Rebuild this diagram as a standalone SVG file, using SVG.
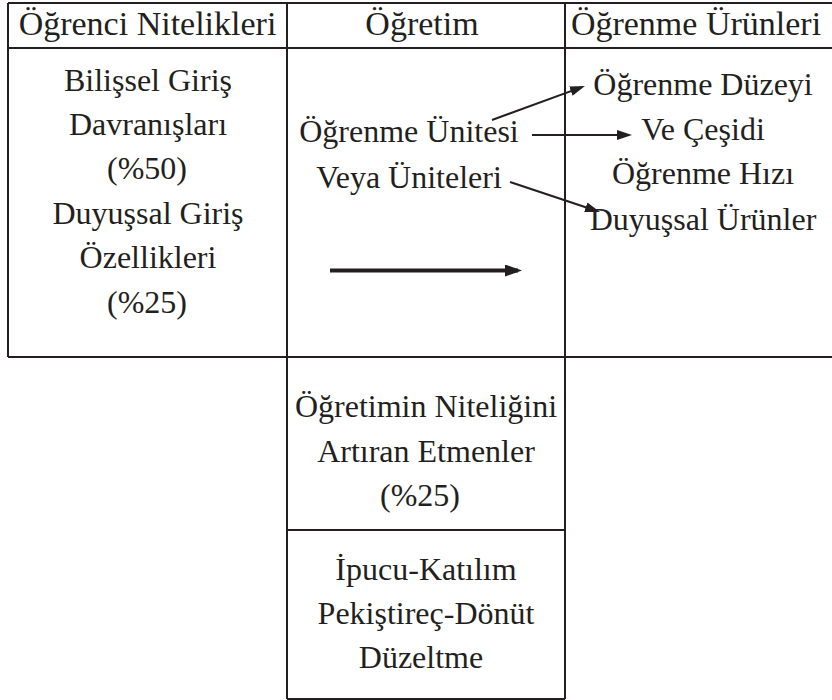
<svg xmlns="http://www.w3.org/2000/svg" width="832" height="700" viewBox="0 0 832 700">
<style>
.b{stroke:#231f20;stroke-width:2;fill:none}
.a{stroke:#231f20;stroke-width:2;fill:none}
.a4{stroke:#231f20;stroke-width:4;fill:none}
</style>
<defs>
<marker id="ah" markerUnits="userSpaceOnUse" markerWidth="16" markerHeight="12" refX="11" refY="5" orient="auto"><path d="M0,0 L15,5 L0,10 z" fill="#231f20"/></marker>
<marker id="ahb" markerUnits="userSpaceOnUse" markerWidth="18" markerHeight="14" refX="13" refY="6" orient="auto"><path d="M0,0 L17,6 L0,12 z" fill="#231f20"/></marker>
</defs>
<rect width="832" height="700" fill="#fff"/>
<g id="grid">
<path class="b" d="M8,3 H832 M8,48 H832 M8,357 H832 M8,3 V357 M287,3 V699 M565,3 V699 M287,530 H565 M287,699 H565"/>
</g>
<g font-family="Liberation Serif, serif" font-size="32" fill="#231f20" text-anchor="middle">
<g id="head-ogrenci"><text font-size="34" x="147.5" y="35">Öğrenci Nitelikleri</text></g>
<g id="head-ogretim"><text font-size="34" x="422" y="35">Öğretim</text></g>
<g id="head-urunler"><text font-size="34" x="696" y="35">Öğrenme Ürünleri</text></g>
<g id="ogrenci-nitelikleri">
<text x="148" y="91">Bilişsel Giriş</text>
<text x="148" y="135">Davranışları</text>
<text x="147" y="179">(%50)</text>
<text x="148" y="224">Duyuşsal Giriş</text>
<text x="148" y="268">Özellikleri</text>
<text x="147" y="313">(%25)</text>
</g>
<g id="ogrenme-unitesi">
<text x="409" y="142">Öğrenme Ünitesi</text>
<text x="409" y="188">Veya Üniteleri</text>
</g>
<g id="ogrenme-urunleri">
<text x="703" y="95">Öğrenme Düzeyi</text>
<text x="703" y="140">Ve Çeşidi</text>
<text x="703" y="184">Öğrenme Hızı</text>
<text x="703" y="230">Duyuşsal Ürünler</text>
</g>
<g id="nitelik-etmenler">
<text x="426" y="417">Öğretimin Niteliğini</text>
<text x="426" y="462">Artıran Etmenler</text>
<text x="420" y="506">(%25)</text>
</g>
<g id="ipucu">
<text x="426" y="580">İpucu-Katılım</text>
<text x="426" y="624">Pekiştireç-Dönüt</text>
<text x="421" y="668">Düzeltme</text>
</g>
</g>
<g id="connectors">
<path class="a" d="M492,120 L581.2,87.4" marker-end="url(#ah)"/>
<path class="a" d="M532,135 L628,135" marker-end="url(#ah)"/>
<path class="a" d="M510,182 L596.2,210.7" marker-end="url(#ah)"/>
<path class="a4" d="M330,270.5 L518,270.5" marker-end="url(#ahb)"/>
</g>
</svg>
